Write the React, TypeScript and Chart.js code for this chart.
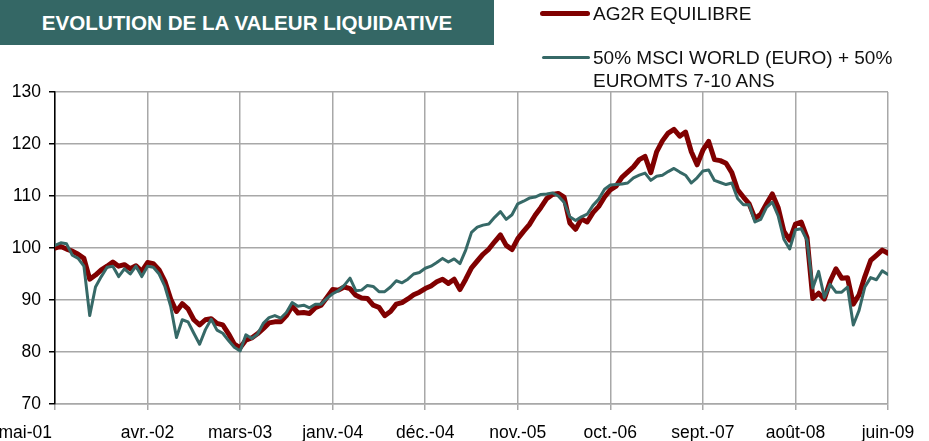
import React, { useEffect, useRef } from 'react';
import { Chart, registerables } from 'chart.js';

Chart.register(...registerables);

// Tick labels of the category axis (one every STEP points)
const tickLabels = ['mai-01', 'avr.-02', 'mars-03', 'janv.-04', 'déc.-04', 'nov.-05', 'oct.-06', 'sept.-07', 'août-08', 'juin-09'];
const STEP = 16;

// AG2R EQUILIBRE
const ag2r = [
  100, 100.3, 99.8, 99.4, 98.8, 98, 94, 94.8, 95.8, 96.5, 97.3, 96.5, 96.8, 96, 96.6, 95.5, 97.2,
  97, 95.8, 93.6, 90.2, 87.8, 89.3, 88.3, 86.2, 85.2, 86.2, 86.4, 85.5, 85.2, 83.5, 81.5, 80.8,
  82.3, 82.7, 83.5, 84.5, 85.6, 85.8, 85.8, 87, 88.8, 87.5, 87.6, 87.4, 88.5, 89, 90.5, 92,
  91.9, 92.5, 92.2, 90.9, 90.4, 90.3, 89, 88.6, 87, 87.8, 89.2, 89.5, 90.2, 91, 91.5, 92.2,
  92.7, 93.5, 94, 93.2, 94, 92, 94, 96.2, 97.5, 98.8, 99.8, 101.2, 102.5, 100.5, 99.7, 101.8,
  103.2, 104.5, 106.3, 107.8, 109.5, 110.3, 110.5, 109.8, 104.8, 103.6, 105.6, 105, 106.8, 108, 109.8, 111.2,
  111.9, 113.6, 114.6, 115.6, 117, 117.6, 114.5, 118.5, 120.6, 122.1, 122.8, 121.5, 122.3, 118.5, 116, 118.8,
  120.5, 117, 116.8, 116.3, 114.5, 111.2, 109.8, 108.5, 105.7, 106.5, 108.5, 110.4, 107.8, 103.2, 101.5, 104.6,
  105, 102, 90.3, 91.3, 90.2, 93.6, 96, 94.2, 94.3, 89.2, 91, 94.5, 97.6, 98.6, 99.6, 99,
];

// 50% MSCI WORLD (EURO) + 50% EUROMTS 7-10 ANS
const benchmark = [
  100.5, 101, 100.8, 98.6, 98, 96.5, 87, 92.5, 94.5, 96.3, 96.5, 94.5, 96, 95, 96.5, 94.5, 96.5,
  96.3, 95, 92.6, 88.8, 82.8, 86.2, 85.8, 83.6, 81.5, 84.3, 86.3, 84.2, 83.6, 82.2, 80.9, 80.2,
  83.3, 82.6, 83.4, 85.5, 86.6, 87, 86.5, 87.6, 89.5, 88.8, 89, 88.5, 89.2, 89.2, 90.3, 91.2,
  91.8, 92.8, 94.2, 91.8, 91.9, 92.8, 92.6, 91.6, 91.6, 92.5, 93.7, 93.3, 94, 95, 95.3, 96.1,
  96.5, 97.2, 98, 97.3, 97.9, 97, 99.6, 103, 104, 104.4, 104.6, 105.9, 107, 105.5, 106.4, 108.5,
  109, 109.6, 109.8, 110.3, 110.4, 110.6, 110, 108.8, 106, 105.3, 106, 106.5, 108.2, 109.4, 111.3, 112.1,
  112.2, 112.3, 112.5, 113.5, 114, 114.4, 113, 113.8, 114, 114.7, 115.3, 114.6, 114, 112.5, 113.5, 114.8,
  115, 113, 112.6, 112.2, 112.5, 109.5, 108.3, 108.3, 105, 105.5, 107.8, 108.8, 106.2, 101.7, 99.8, 103.5,
  103.7, 101.5, 92.3, 95.5, 90.5, 93, 91.5, 91.5, 92.5, 85.2, 88, 92.5, 94.3, 93.9, 95.6, 94.9,
];

const FONT = '"Liberation Sans", Arial, Helvetica, sans-serif';
const RED = '#800000';
const TEAL = '#366967';
const GRID = '#a8a8a8';

export default function App() {
  const ref = useRef<HTMLCanvasElement>(null);

  useEffect(() => {
    document.body.style.margin = '0';
    if (!ref.current) return;

    const xLabelPlugin = {
      id: 'xLabels',
      afterDraw(chart: any) {
        const { ctx } = chart;
        const x = chart.scales.x;
        ctx.save();
        ctx.font = `17.5px ${FONT}`;
        ctx.fillStyle = '#000';
        ctx.textBaseline = 'alphabetic';
        tickLabels.forEach((lab, k) => {
          const px = x.getPixelForValue(k * STEP);
          if (k === 0) {
            ctx.textAlign = 'right';
            ctx.fillText(lab, px - 3, 438);
          } else {
            ctx.textAlign = 'center';
            ctx.fillText(lab, px, 438);
          }
        });
        ctx.restore();
      },
    };

    const chart = new Chart(ref.current, {
      type: 'line',
      data: {
        datasets: [
          {
            label: '50% MSCI WORLD (EURO) + 50% EUROMTS 7-10 ANS',
            data: benchmark.map((v, i) => ({ x: i, y: v })),
            borderColor: TEAL,
            borderWidth: 3,
            pointRadius: 0,
            tension: 0,
            borderJoinStyle: 'round',
            borderCapStyle: 'round',
          },
          {
            label: 'AG2R EQUILIBRE',
            data: ag2r.map((v, i) => ({ x: i, y: v })),
            borderColor: RED,
            borderWidth: 5,
            pointRadius: 0,
            tension: 0,
            borderJoinStyle: 'round',
            borderCapStyle: 'round',
          },
        ],
      },
      options: {
        responsive: false,
        animation: false,
        layout: { padding: { top: 92, right: 41, left: 0, bottom: 0 } },
        plugins: { legend: { display: false }, tooltip: { enabled: false } },
        scales: {
          x: {
            type: 'linear',
            min: 0,
            max: (tickLabels.length - 1) * STEP,
            ticks: { stepSize: STEP, display: false },
            grid: { color: GRID, lineWidth: 1.5, tickLength: 6, tickColor: GRID, drawTicks: true },
            border: { color: GRID, width: 1.5 },
            afterFit: (s: any) => { s.height = 37; },
          },
          y: {
            min: 70,
            max: 130,
            ticks: { stepSize: 10, padding: 8, color: '#000', font: { family: FONT, size: 17.5 } },
            grid: { color: GRID, lineWidth: 1.5, tickLength: 6, tickColor: '#000' },
            border: { color: '#000', width: 1.5 },
            afterFit: (s: any) => { s.width = 55; },
          },
        },
      },
      plugins: [xLabelPlugin],
    } as any);

    return () => chart.destroy();
  }, []);

  return (
    <div style={{ position: 'relative', width: 929, height: 441, fontFamily: FONT, background: '#fff' }}>
      <canvas ref={ref} width={929} height={441} style={{ position: 'absolute', left: 0, top: 0, display: 'block' }} />
      <div
        style={{
          position: 'absolute', left: 0, top: 0, width: 494, height: 45, background: '#346765',
          color: '#fff', fontWeight: 'bold', fontSize: 20.6, display: 'flex', alignItems: 'center',
          justifyContent: 'center', whiteSpace: 'nowrap',
        }}
      >
        EVOLUTION DE LA VALEUR LIQUIDATIVE
      </div>
      <div style={{ position: 'absolute', left: 540, top: 11, width: 50, height: 5, background: RED, borderRadius: 2.5 }} />
      <div style={{ position: 'absolute', left: 593, top: 3, fontSize: 19, lineHeight: '22px', color: '#111', whiteSpace: 'nowrap' }}>
        AG2R EQUILIBRE
      </div>
      <div style={{ position: 'absolute', left: 542, top: 55.5, width: 48, height: 3, background: TEAL, borderRadius: 1.5 }} />
      <div style={{ position: 'absolute', left: 593, top: 47, fontSize: 19, lineHeight: '22.5px', color: '#111', whiteSpace: 'nowrap' }}>
        50% MSCI WORLD (EURO) + 50%
        <br />
        EUROMTS 7-10 ANS
      </div>
    </div>
  );
}
